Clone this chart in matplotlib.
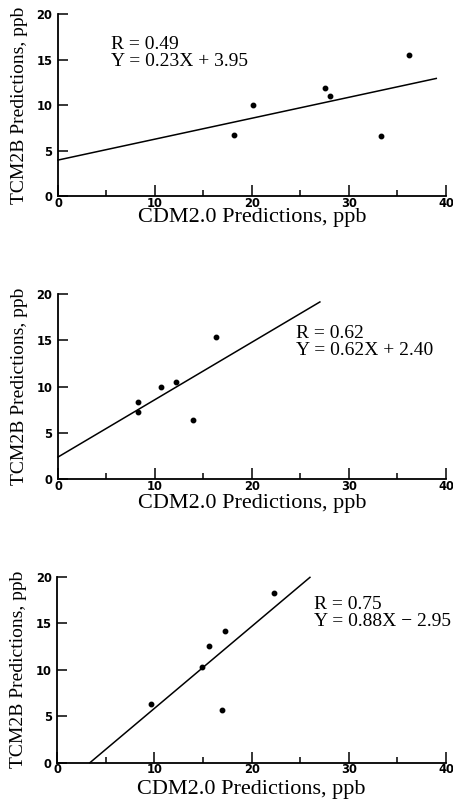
import matplotlib.pyplot as plt
import numpy as np
from matplotlib.ticker import MultipleLocator

# scatter data for the three panels (CDM2.0 x, TCM2B y)
x1 = [18.1, 20.1, 27.5, 28.0, 33.3, 36.2]
y1 = [6.7, 10.0, 11.9, 11.0, 6.6, 15.5]
x2 = [8.2, 8.2, 10.6, 12.2, 13.9, 16.3]
y2 = [8.3, 7.3, 10.0, 10.5, 6.4, 15.4]
x3 = [9.6, 14.9, 15.6, 17.3, 17.0, 22.3]
y3 = [6.3, 10.3, 12.5, 14.2, 5.7, 18.2]

r_vals = [0.49, 0.62, 0.75]
slopes = [0.23, 0.62, 0.88]
intercepts = [3.95, 2.40, -2.95]
fit_x_end = [39, 27, 26]
eq_labels = ['R = 0.49\nY = 0.23X + 3.95',
             'R = 0.62\nY = 0.62X + 2.40',
             'R = 0.75\nY = 0.88X \u2212 2.95']

xticks = [0, 10, 20, 30, 40]
yticks = [0, 5, 10, 15, 20]

serif = ['Liberation Serif', 'DejaVu Serif']

fig = plt.figure(figsize=(4.53, 8.05), dpi=100)
axes_pos = [
    [0.128, 0.7565, 0.8565, 0.2261],
    [0.128, 0.4046, 0.8565, 0.2302],
    [0.1265, 0.0525, 0.8580, 0.2311],
]
text_pos = [(5.5, 17.6), (24.5, 16.6), (26.4, 17.9)]
xlab_y = [-0.068, -0.078, -0.092]

data = [(x1, y1), (x2, y2), (x3, y3)]
for i, pos in enumerate(axes_pos):
    ax = fig.add_axes(pos)
    xs, ys = data[i]
    m, b = slopes[i], intercepts[i]
    x0 = max(0.0, -b / m)
    fx = np.array([x0, fit_x_end[i]])
    ax.plot(fx, m * fx + b, color='black', lw=1.1, clip_on=False)
    ax.plot(xs, ys, 'o', color='black', ms=3.2, clip_on=False)

    ax.set_xlim(0, 40)
    ax.set_ylim(0, 20)
    ax.spines['top'].set_visible(False)
    ax.spines['right'].set_visible(False)
    for s in ['left', 'bottom']:
        ax.spines[s].set_linewidth(1.3)
    ax.set_xticks(xticks)
    ax.set_yticks(yticks)
    ax.xaxis.set_minor_locator(MultipleLocator(5))
    ax.tick_params(axis='x', which='major', direction='in', length=8, width=1.1, pad=0.5)
    ax.tick_params(axis='x', which='minor', direction='in', length=4.5, width=1.1)
    ax.tick_params(axis='y', direction='in', length=7, width=1.1, pad=4)
    for lab in ax.get_xticklabels() + ax.get_yticklabels():
        lab.set_fontfamily('DejaVu Sans')
        lab.set_fontweight('bold')
        lab.set_fontsize(8.3)

    ax.set_xlabel('CDM2.0 Predictions, ppb', family=serif, fontsize=16)
    ax.set_ylabel('TCM2B Predictions, ppb', family=serif, fontsize=14)
    ax.xaxis.set_label_coords(0.5, xlab_y[i])
    ax.yaxis.set_label_coords(-0.078, 0.5)

    tx, ty = text_pos[i]
    ax.text(tx, ty, eq_labels[i], family=serif, fontsize=14, va='top', ha='left',
            linespacing=1.0)

fig.savefig('out.png', dpi=100)
